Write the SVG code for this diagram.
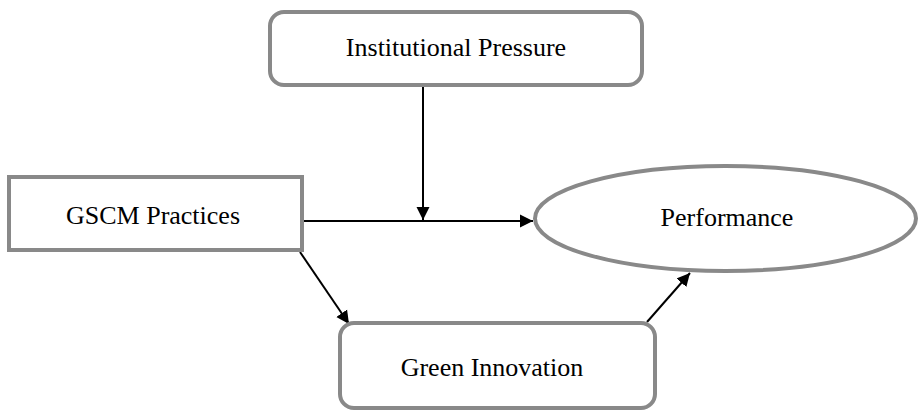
<svg xmlns="http://www.w3.org/2000/svg" width="919" height="411" viewBox="0 0 919 411">
<style>
.node{fill:#fff;stroke:#898989;stroke-width:4}
.lbl{font-family:"Liberation Serif","Times New Roman",serif;font-size:26px;fill:#000;text-anchor:middle}
.edge{stroke:#000;stroke-width:2;fill:none}
</style>
<defs>
<marker id="arr" markerUnits="userSpaceOnUse" markerWidth="14" markerHeight="14" viewBox="0 0 14 14" refX="13" refY="7" orient="auto">
<path d="M0,0.5 L13,7 L0,13.5 Z" fill="#000"/>
</marker>
</defs>
<rect width="919" height="411" fill="#fff"/>
<g id="connectors">
<line class="edge" x1="302" y1="221" x2="533" y2="221" marker-end="url(#arr)"/>
<line class="edge" x1="423" y1="87" x2="423" y2="220" marker-end="url(#arr)"/>
<line class="edge" x1="300" y1="252" x2="349" y2="324" marker-end="url(#arr)"/>
<line class="edge" x1="647" y1="322" x2="690" y2="273" marker-end="url(#arr)"/>
</g>
<g id="institutional">
<rect class="node" x="270" y="12" width="372" height="73" rx="14"/>
<text class="lbl" x="456" y="56">Institutional Pressure</text>
</g>
<g id="gscm">
<rect class="node" x="9" y="177" width="293" height="73"/>
<text class="lbl" x="153" y="224">GSCM Practices</text>
</g>
<g id="performance">
<ellipse class="node" cx="725.5" cy="218.5" rx="190.5" ry="52.5"/>
<text class="lbl" x="727" y="226">Performance</text>
</g>
<g id="green">
<rect class="node" x="340" y="323" width="315" height="85" rx="14"/>
<text class="lbl" x="492" y="376">Green Innovation</text>
</g>
</svg>
